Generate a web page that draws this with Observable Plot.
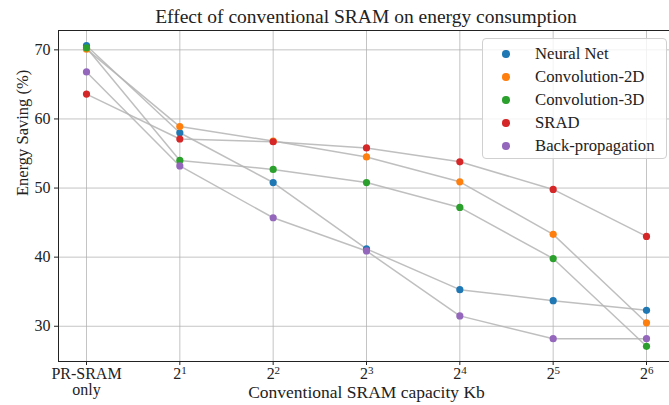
<!DOCTYPE html>
<html><head><meta charset="utf-8">
<script src="https://cdn.jsdelivr.net/npm/d3@7"></script>
<script src="https://cdn.jsdelivr.net/npm/@observablehq/plot@0.6"></script>
<style>
body{margin:0;background:#fff;font-family:"Liberation Serif",serif;}
#wrap{position:relative;width:669px;height:405px;overflow:hidden;background:#fff;}
#title{position:absolute;left:58px;width:616px;top:0;height:29px;line-height:34px;text-align:center;font-size:19.5px;color:#222;}
#chart{position:absolute;left:0;top:29px;}
#legend{position:absolute;left:482px;top:38px;width:185px;height:121px;background:rgba(255,255,255,0.8);border:1px solid #d0d0d0;border-radius:4px;box-sizing:border-box;}
.row{position:absolute;left:0;height:23px;line-height:23px;font-size:16.7px;color:#222;white-space:nowrap;}
.row .dot{position:absolute;left:19px;top:8px;width:7.5px;height:7.5px;border-radius:50%;}
.row .lab{position:absolute;left:52px;top:0;}
</style></head>
<body>
<div id="wrap">
  <div id="title">Effect of conventional SRAM on energy consumption</div>
  <div id="chart"></div>
  <div id="legend"></div>
</div>
<script>
const categories = ["PR-SRAM\nonly", "2^1", "2^2", "2^3", "2^4", "2^5", "2^6"];
const exponents = ["1", "2", "3", "4", "5", "6"];
const seriesNames = ["Neural Net", "Convolution-2D", "Convolution-3D", "SRAD", "Back-propagation"];
const seriesColors = ["#1f77b4", "#ff7f0e", "#2ca02c", "#d62728", "#9467bd"];
const neuralNet = [70.6, 58.0, 50.8, 41.2, 35.3, 33.7, 32.3];
const conv2d    = [70.1, 58.9, 56.8, 54.5, 50.9, 43.3, 30.5];
const conv3d    = [70.3, 54.0, 52.7, 50.8, 47.2, 39.8, 27.1];
const srad      = [63.6, 57.1, 56.7, 55.8, 53.8, 49.8, 43.0];
const backprop  = [66.8, 53.2, 45.7, 40.9, 31.5, 28.2, 28.2];
const yTicks = [30, 40, 50, 60, 70];

const allSeries = [neuralNet, conv2d, conv3d, srad, backprop];
const data = allSeries.flatMap((vals, s) => vals.map((v, i) => ({series: seriesNames[s], xi: i, value: v})));

const W = 669, H = 376;
const x0 = -0.3, x1 = 6.3, y0 = 24.9, y1 = 72.8;
const serif = "'Liberation Serif', serif";

const chart = Plot.plot({
  width: W, height: H,
  marginLeft: 58, marginRight: 0, marginTop: 1, marginBottom: 44,
  style: {fontFamily: serif, fontSize: "16px", color: "#222", background: "transparent", overflow: "visible"},
  x: {type: "linear", domain: [x0, x1], range: [58, 674], axis: null},
  y: {domain: [y0, y1], range: [332, 1], axis: null},
  color: {domain: seriesNames, range: seriesColors},
  marks: [
    Plot.gridX(d3.range(categories.length), {stroke: "#b0b0b0", strokeOpacity: 0.75, strokeWidth: 1}),
    Plot.gridY(yTicks, {stroke: "#b0b0b0", strokeOpacity: 0.75, strokeWidth: 1}),
    Plot.line(data, {x: "xi", y: "value", z: "series", stroke: "#b4b4b4", strokeOpacity: 0.85, strokeWidth: 1.5}),
    Plot.dot(data, {x: "xi", y: "value", fill: "series", r: 3.6, stroke: "none"}),
    Plot.ruleX([x0], {stroke: "#222", strokeWidth: 1}),
    Plot.ruleY([y0], {stroke: "#222", strokeWidth: 1}),
    Plot.ruleY([y1], {stroke: "#222", strokeWidth: 1}),
    Plot.axisY(yTicks, {tickSize: 4, tickPadding: 4, fontSize: 16, stroke: "#222", label: null}),
    Plot.axisX(d3.range(categories.length), {tickSize: 4, tickFormat: () => "", stroke: "#222", label: null}),
    Plot.text([categories[0]], {x: () => 0, frameAnchor: "bottom", lineAnchor: "top", dy: 6, fontSize: 16, lineHeight: 1.0, fill: "#222"}),
    Plot.text(exponents, {x: (d, i) => i + 1, text: () => "2", frameAnchor: "bottom", lineAnchor: "top", dy: 6, dx: -2.5, fontSize: 16, fill: "#222"}),
    Plot.text(exponents, {x: (d, i) => i + 1, text: d => d, frameAnchor: "bottom", lineAnchor: "top", dy: 5, dx: 4.2, fontSize: 11, fill: "#222"}),
    Plot.text(["Conventional SRAM capacity Kb"], {x: () => (x0 + x1) / 2, frameAnchor: "bottom", lineAnchor: "middle", dy: 31, fontSize: 17.5, fill: "#222"}),
    Plot.text(["Energy Saving (%)"], {frameAnchor: "left", rotate: -90, dx: -36, fontSize: 16.5, fill: "#222"})
  ]
});
document.getElementById("chart").appendChild(chart);

const legend = document.getElementById("legend");
seriesNames.forEach((name, i) => {
  const row = document.createElement("div");
  row.className = "row";
  row.style.top = (3 + i * 23) + "px";
  row.innerHTML = `<span class="dot" style="background:${seriesColors[i]}"></span><span class="lab">${name}</span>`;
  legend.appendChild(row);
});
</script>
</body></html>
